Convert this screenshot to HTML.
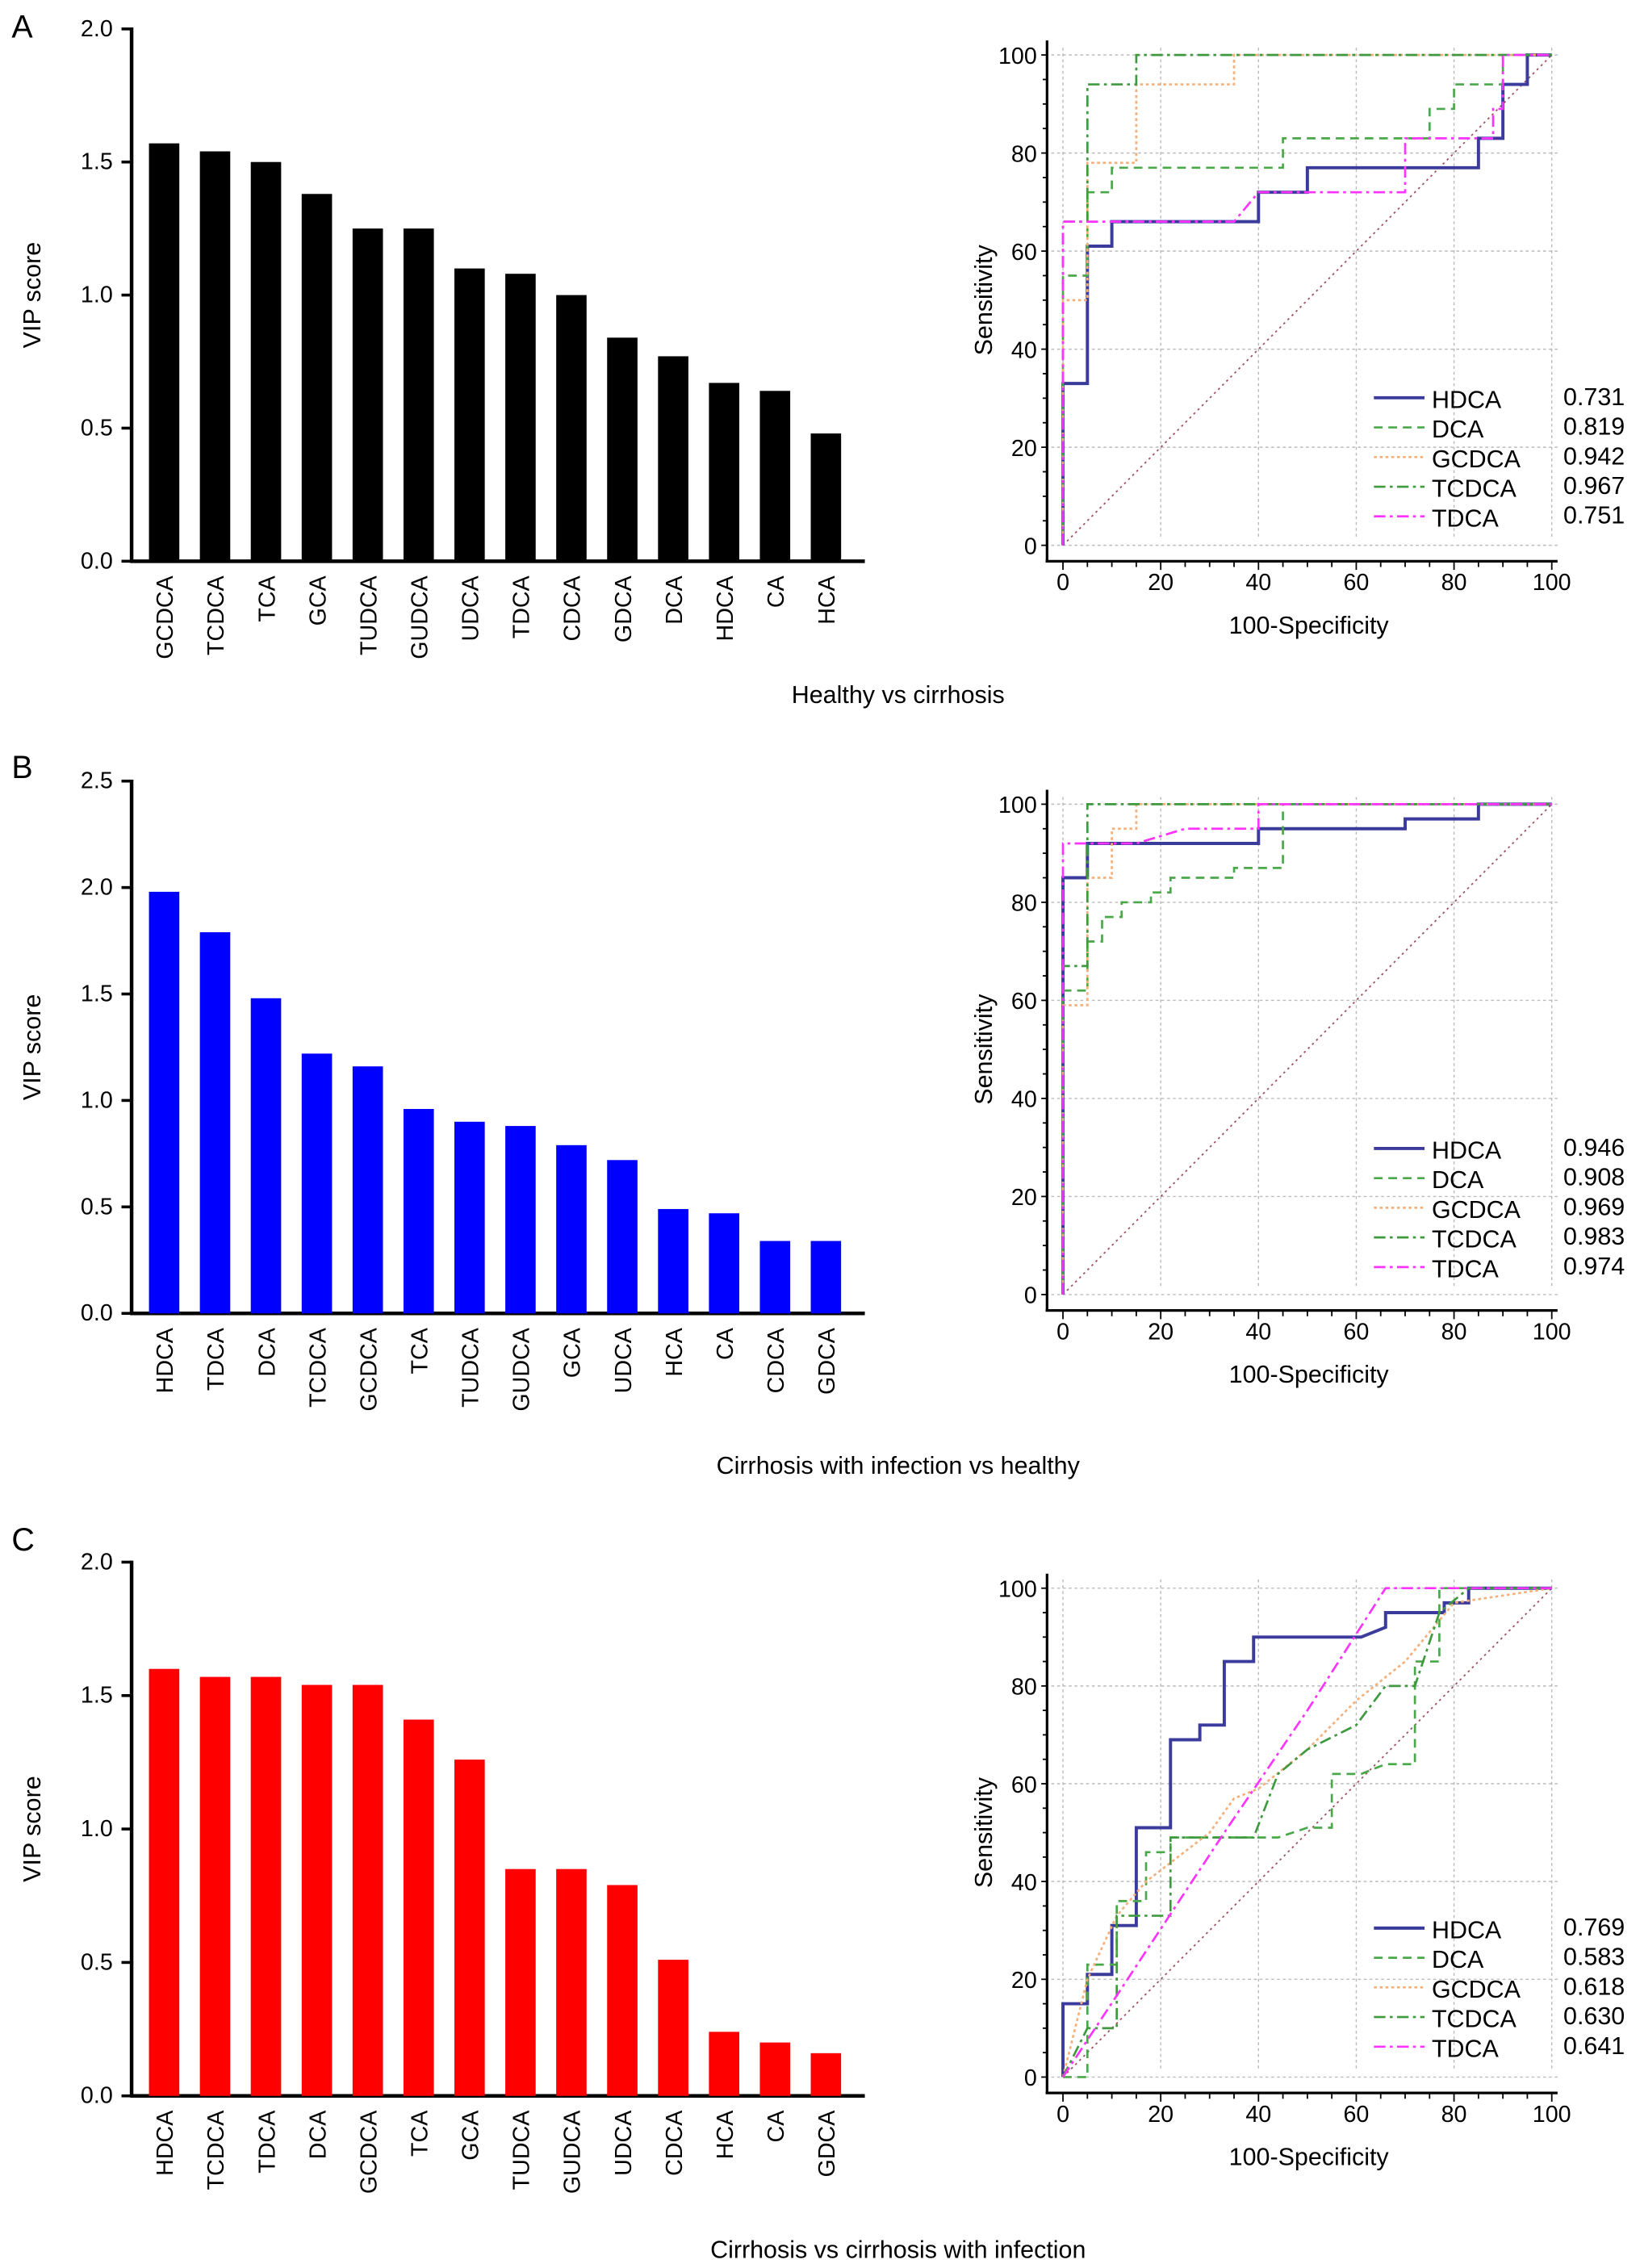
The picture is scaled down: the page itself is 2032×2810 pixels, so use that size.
<!DOCTYPE html>
<html><head><meta charset="utf-8"><style>
html,body{margin:0;padding:0;background:#fff;}
svg{display:block;font-family:"Liberation Sans",Arial,sans-serif;}
</style></head><body>
<svg id="fig" width="2032" height="2810" viewBox="0 0 1134 1568" preserveAspectRatio="none">
<text x="8" y="26" font-size="22">A</text>
<text x="8" y="538" font-size="22">B</text>
<text x="8" y="1072" font-size="22">C</text>
<text x="621" y="486" font-size="17" text-anchor="middle">Healthy vs cirrhosis</text>
<text x="621" y="1019" font-size="17" text-anchor="middle">Cirrhosis with infection vs healthy</text>
<text x="621" y="1561" font-size="17" text-anchor="middle">Cirrhosis vs cirrhosis with infection</text>
</svg>
<script>
const NS="http://www.w3.org/2000/svg";
const svg=document.getElementById('fig');
function mk(tag,attrs,parent){const e=document.createElementNS(NS,tag);for(const k in attrs)e.setAttribute(k,attrs[k]);(parent||svg).appendChild(e);return e;}

// ---- Bar chart data ----
const catsA=["GCDCA","TCDCA","TCA","GCA","TUDCA","GUDCA","UDCA","TDCA","CDCA","GDCA","DCA","HDCA","CA","HCA"];
const valsA=[1.57,1.54,1.50,1.38,1.25,1.25,1.10,1.08,1.00,0.84,0.77,0.67,0.64,0.48];
const ticksA=[0.0,0.5,1.0,1.5,2.0];
const catsB=["HDCA","TDCA","DCA","TCDCA","GCDCA","TCA","TUDCA","GUDCA","GCA","UDCA","HCA","CA","CDCA","GDCA"];
const valsB=[1.98,1.79,1.48,1.22,1.16,0.96,0.90,0.88,0.79,0.72,0.49,0.47,0.34,0.34];
const ticksB=[0.0,0.5,1.0,1.5,2.0,2.5];
const catsC=["HDCA","TCDCA","TDCA","DCA","GCDCA","TCA","GCA","TUDCA","GUDCA","UDCA","CDCA","HCA","CA","GDCA"];
const valsC=[1.60,1.57,1.57,1.54,1.54,1.41,1.26,0.85,0.85,0.79,0.51,0.24,0.20,0.16];
const ticksC=[0.0,0.5,1.0,1.5,2.0];

function bar(id,cats,vals,ticks,ymax,top,bottom,color){
  const g=mk('g',{});
  
  
  const y=v=>bottom-(v/ymax)*(bottom-top);
  const x=i=>103+i*35.2;
  mk('line',{x1:91,y1:top-1,x2:91,y2:bottom+1,stroke:'#000','stroke-width':2.5},g);
  mk('line',{x1:90,y1:bottom,x2:598,y2:bottom,stroke:'#000','stroke-width':2.5},g);
  ticks.forEach(t=>{
    mk('line',{x1:84,y1:y(t),x2:91,y2:y(t),stroke:'#000','stroke-width':2},g);
    const tx=mk('text',{x:78,y:y(t)+5,'font-size':16,'text-anchor':'end'},g);tx.textContent=t.toFixed(1);
    
    
  });
  vals.forEach((v,i)=>{
    const r=mk('rect',{x:x(i),y:y(v),width:21,height:bottom-y(v),fill:color},g);
    
    
    const cx=x(i)+11.5, ly=bottom+10;
    const t=mk('text',{x:cx,y:ly,'font-size':16,'text-anchor':'end',transform:`rotate(-90 ${cx} ${ly}) translate(0 5)`},g);
    t.textContent=cats[i];
    
    
  });
  const cy=(top+bottom)/2;
  const yl=mk('text',{x:28,y:cy,'font-size':17,'text-anchor':'middle',transform:`rotate(-90 28 ${cy})`},g);
  yl.textContent='VIP score';
  
  
}
bar('a',catsA,valsA,ticksA,2.0,20,388,'#000');
bar('b',catsB,valsB,ticksB,2.5,540,908,'#0000ff');
bar('c',catsC,valsC,ticksC,2.0,1080,1449,'#ff0000');

// ---- ROC data ----
const rocNames=["HDCA","DCA","GCDCA","TCDCA","TDCA"];
const aucA=["0.731","0.819","0.942","0.967","0.751"];
const aucB=["0.946","0.908","0.969","0.983","0.974"];
const aucC=["0.769","0.583","0.618","0.630","0.641"];
const axisTicks=[0,20,40,60,80,100];
const rocA_HDCA=[[0,0],[0,33],[5,33],[5,61],[10,61],[10,66],[40,66],[40,72],[50,72],[50,77],[85,77],[85,83],[90,83],[90,94],[95,94],[95,100],[100,100]];
const rocA_DCA=[[0,0],[0,44],[0,55],[5,55],[5,72],[10,72],[10,77],[45,77],[45,83],[75,83],[75,89],[80,89],[80,94],[90,94],[90,100],[100,100]];
const rocA_GCDCA=[[0,0],[0,50],[5,50],[5,78],[15,78],[15,94],[35,94],[35,100],[100,100]];
const rocA_TCDCA=[[0,0],[0,66],[5,66],[5,94],[15,94],[15,100],[100,100]];
const rocA_TDCA=[[0,0],[0,66],[35,66],[40,72],[70,72],[70,83],[88,83],[88,89],[90,89],[90,100],[100,100]];
const rocB_HDCA=[[0,0],[0,85],[5,85],[5,92],[40,92],[40,95],[70,95],[70,97],[85,97],[85,100],[100,100]];
const rocB_DCA=[[0,0],[0,62],[5,62],[5,72],[8,72],[8,77],[12,77],[12,80],[18,80],[18,82],[22,82],[22,85],[35,85],[35,87],[45,87],[45,100],[100,100]];
const rocB_GCDCA=[[0,0],[0,59],[5,59],[5,85],[10,85],[10,95],[15,95],[15,100],[100,100]];
const rocB_TCDCA=[[0,0],[0,67],[5,67],[5,100],[100,100]];
const rocB_TDCA=[[0,0],[0,92],[15,92],[25,95],[40,95],[40,100],[100,100]];
const rocC_HDCA=[[0,0],[0,15],[5,15],[5,21],[10,21],[10,31],[15,31],[15,51],[22,51],[22,69],[28,69],[28,72],[33,72],[33,85],[39,85],[39,90],[61,90],[66,92],[66,95],[78,95],[78,97],[83,97],[83,100],[100,100]];
const rocC_DCA=[[0,0],[5,0],[5,23],[11,23],[11,36],[17,36],[17,46],[22,46],[22,49],[44,49],[50,51],[55,51],[55,62],[61,62],[66,64],[72,64],[72,85],[77,85],[77,100],[100,100]];
const rocC_GCDCA=[[0,0],[5,20],[11,33],[17,40],[30,50],[35,57],[40,59],[50,67],[60,77],[70,85],[80,97],[100,100]];
const rocC_TCDCA=[[0,0],[5,10],[11,10],[11,33],[22,33],[22,49],[39,49],[44,62],[50,67],[60,72],[66,80],[72,80],[77,95],[83,100],[100,100]];
const rocC_TDCA=[[0,0],[33,50],[50,75],[66,100],[100,100]];
const styles=[
 {stroke:'#3b3b9c',w:2.2,dash:''},
 {stroke:'#4aa84a',w:1.5,dash:'6,4'},
 {stroke:'#f5b07a',w:1.5,dash:'2,2'},
 {stroke:'#3f9a3f',w:1.5,dash:'8,3,2,3'},
 {stroke:'#ff33ff',w:1.5,dash:'8,3,2,3'}];

function roc(id,curves,aucs,top,bottom,legY){
  const g=mk('g',{});
  
  
  const X=v=>735+v/100*338, Y=v=>bottom-v/100*(bottom-top);
  axisTicks.forEach(t=>{
    mk('line',{x1:X(t),y1:Y(0)-6,x2:X(t),y2:Y(100)-6,stroke:'#bbb','stroke-width':0.8,'stroke-dasharray':'2,2'},g);
    mk('line',{x1:X(0)-8,y1:Y(t),x2:X(100)+4,y2:Y(t),stroke:'#bbb','stroke-width':0.8,'stroke-dasharray':'2,2'},g);
    const tx=mk('text',{x:X(t),y:bottom+31,'font-size':16,'text-anchor':'middle'},g);tx.textContent=t;
    
    
    const ty=mk('text',{x:717,y:Y(t)+6,'font-size':16,'text-anchor':'end'},g);ty.textContent=t;
    
    
  });
  for(let t=0;t<=100;t+=5){
    mk('line',{x1:X(t),y1:bottom+11,x2:X(t),y2:bottom+(t%20==0?17:15),stroke:'#000','stroke-width':1},g);
    mk('line',{x1:724,y1:Y(t),x2:(t%20==0?720:721),y2:Y(t),stroke:'#000','stroke-width':1},g);
  }
  mk('line',{x1:724,y1:top-10,x2:724,y2:bottom+11,stroke:'#000','stroke-width':1.8},g);
  mk('line',{x1:723,y1:bottom+11,x2:X(100)+4,y2:bottom+11,stroke:'#000','stroke-width':1.8},g);
  mk('line',{x1:X(0),y1:Y(0),x2:X(100),y2:Y(100),stroke:'#a05060','stroke-width':1,'stroke-dasharray':'1.5,2.5'},g);
  curves.forEach((c,i)=>{
    const s=styles[i];
    const p=mk('polyline',{points:c.map(q=>X(q[0])+','+Y(q[1])).join(' '),fill:'none',stroke:s.stroke,'stroke-width':s.w,'stroke-dasharray':s.dash},g);
    
    
    const ly=legY+i*20.5;
    mk('line',{x1:950,y1:ly-5,x2:985,y2:ly-5,stroke:s.stroke,'stroke-width':s.w,'stroke-dasharray':s.dash},g);
    const lt=mk('text',{x:990,y:ly+2,'font-size':17},g);lt.textContent=rocNames[i];
    
    
    const la=mk('text',{x:1081,y:ly,'font-size':17},g);la.textContent=aucs[i];
    
    
  });
  const cy=(top+bottom)/2;
  const yl=mk('text',{x:686,y:cy,'font-size':17,'text-anchor':'middle',transform:`rotate(-90 686 ${cy})`},g);
  yl.textContent='Sensitivity';
  
  
  const xl=mk('text',{x:905,y:bottom+61,'font-size':17,'text-anchor':'middle'},g);
  xl.textContent='100-Specificity';
  
  
}
roc('a',[rocA_HDCA,rocA_DCA,rocA_GCDCA,rocA_TCDCA,rocA_TDCA],aucA,38,377,280);
roc('b',[rocB_HDCA,rocB_DCA,rocB_GCDCA,rocB_TCDCA,rocB_TDCA],aucB,556,895,799);
roc('c',[rocC_HDCA,rocC_DCA,rocC_GCDCA,rocC_TCDCA,rocC_TDCA],aucC,1098,1436,1338);
</script>
</body></html>
